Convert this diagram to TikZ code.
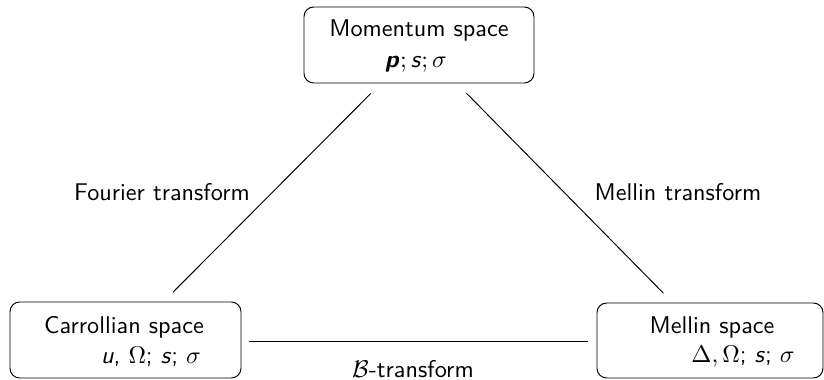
\documentclass[tikz,border=0pt]{standalone}
\usepackage{amsmath}
\begin{document}
\begin{tikzpicture}[x=0.413pt,y=-0.413pt,
  spacebox/.style={draw,rounded corners=4pt,inner sep=0pt},
  txt/.style={inner sep=0pt,font=\sffamily},
  conn/.style={line width=0.4pt}]
\useasboundingbox (0,0) rectangle (824,380);
% boxes
\node[spacebox,minimum width=230*0.413pt,minimum height=76*0.413pt] (top) at (419,45) {};
\node[spacebox,minimum width=231*0.413pt,minimum height=76*0.413pt] (carr) at (125.5,340) {};
\node[spacebox,minimum width=226*0.413pt,minimum height=75*0.413pt] (mell) at (710,340.5) {};
% texts in boxes
\node[txt] (topA) at (419,30) {Momentum space};
\node[txt] (topB) at (416,64) {$\textsf{\textbf{\textit{p}}};\textsf{\textit{s}};\sigma$};
\node[txt] (carrA) at (124,327) {Carrollian space};
\node[txt] (carrB) at (151,357) {\textit{u}, $\Omega$; \textit{s}; $\sigma$};
\node[txt] (mellA) at (712,327) {Mellin space};
\node[txt] (mellB) at (743,357) {$\Delta, \Omega$; \textit{s}; $\sigma$};
% connectors
\draw[conn,shorten <=5.8pt,shorten >=5.4pt] (top) -- (carr);
\draw[conn,shorten <=5.6pt,shorten >=5.4pt] (top) -- (mell);
\draw[conn,shorten <=2.9pt,shorten >=3.7pt] (carr.east |- 0,341) coordinate (cE) -- (mell.west |- 0,341) coordinate (mW);
% labels
\node[txt] (lf) at (162,192) {Fourier transform};
\node[txt] (lm) at (678,192) {Mellin transform};
\node[txt] (lb) at (413,369) {$\mathcal{B}$-transform};
\end{tikzpicture}
\end{document}
